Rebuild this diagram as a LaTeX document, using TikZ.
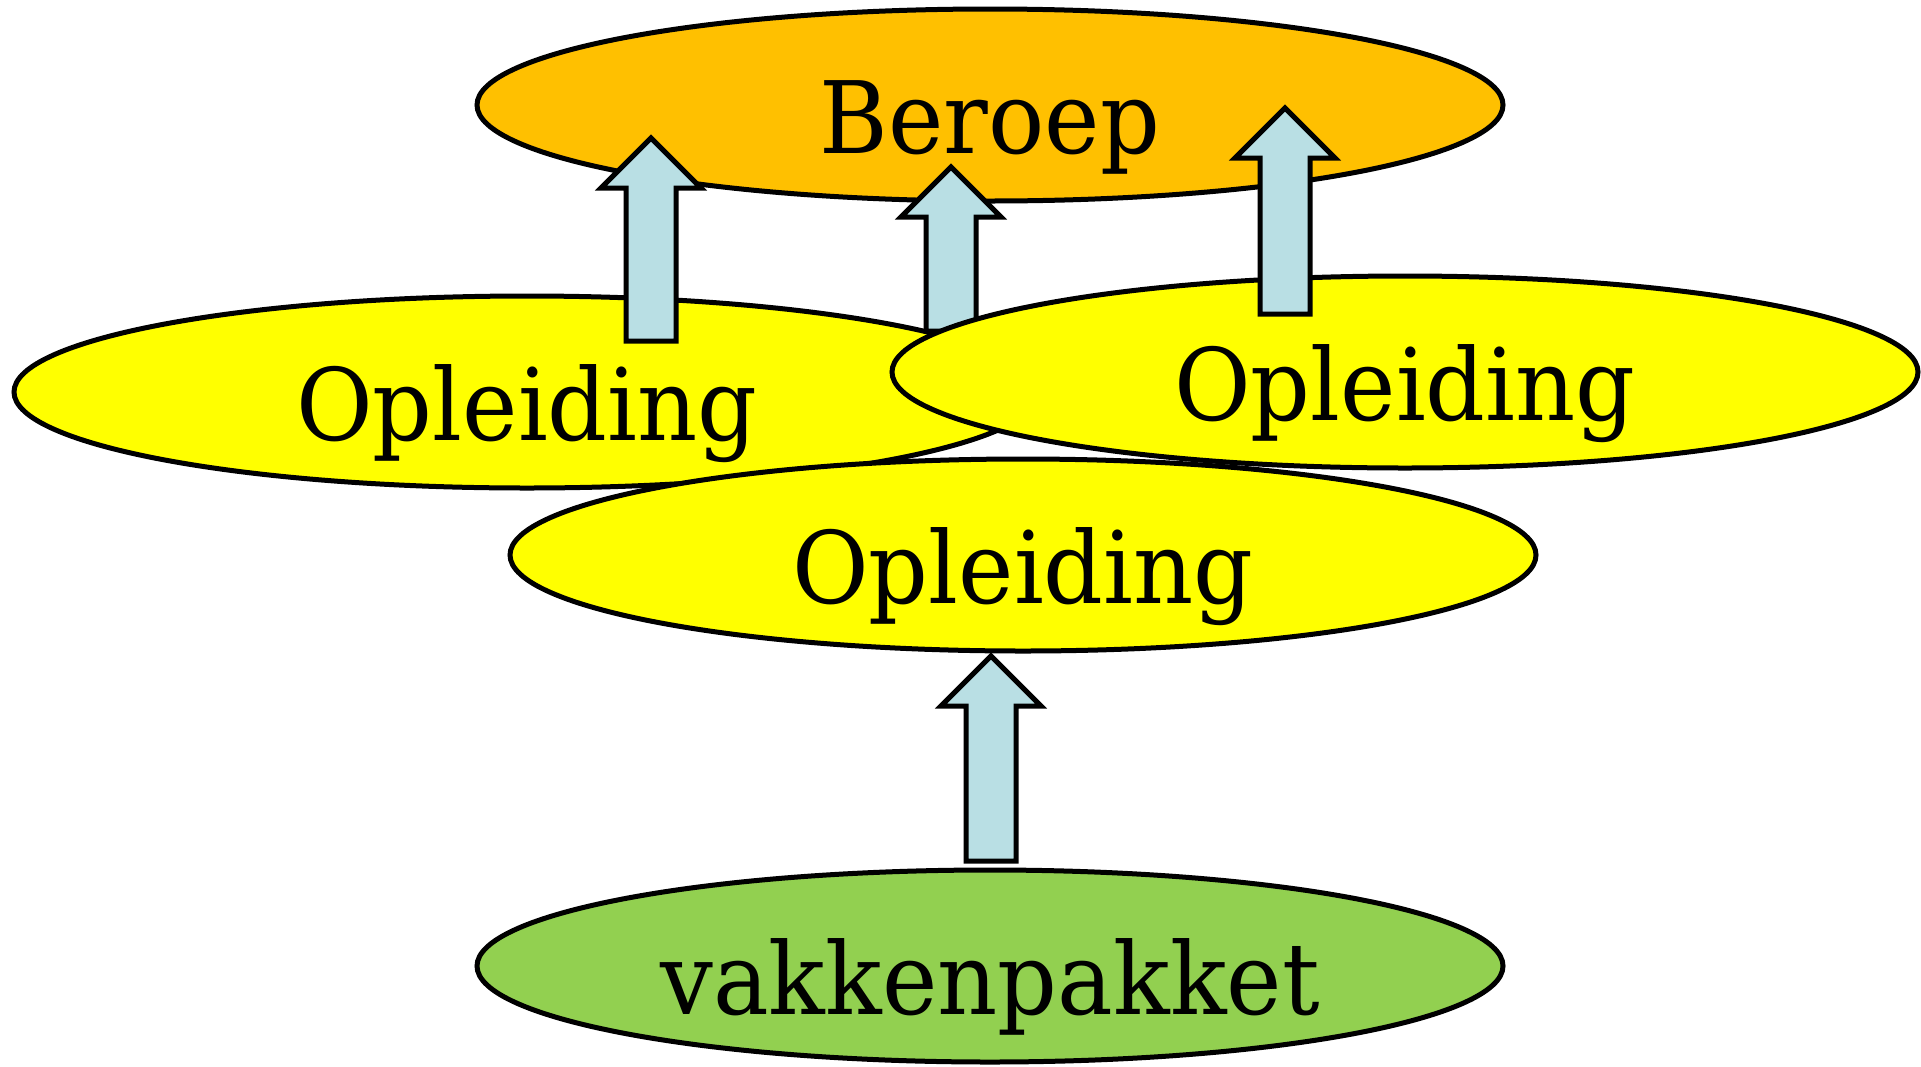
\documentclass[tikz,border=0pt]{standalone}
\usepackage{fontspec}
\usetikzlibrary{shapes.geometric}
\newfontfamily\dfont[FakeStretch=0.935]{DejaVu Serif}
\definecolor{beroepc}{HTML}{FFC000}
\definecolor{opleidc}{HTML}{FFFF00}
\definecolor{vakc}{HTML}{92D050}
\definecolor{arrowc}{HTML}{B9DFE4}
\tikzset{
  oval/.style={ellipse, draw=black, line width=2.5pt, inner sep=0pt,
    minimum width=513pt, minimum height=96pt,
    text height=48pt, text depth=0pt,
    font=\dfont\fontsize{50}{60}\selectfont},
  blockarrow/.style={draw=black, fill=arrowc, line width=2.5pt, miter limit=10},
}
% #1 centre x, #2 bottom y, #3 tip y  (pixel units)
\newcommand\uparrowblock[3]{%
  \filldraw[blockarrow] ({#1-25},#2) -- ({#1+25},#2) -- ({#1+25},{#3+50})
    -- ({#1+50},{#3+50}) -- (#1,#3) -- ({#1-50},{#3+50}) -- ({#1-25},{#3+50}) -- cycle;}
\begin{document}
\begin{tikzpicture}[x=0.5pt,y=-0.5pt]
\useasboundingbox (0,0) rectangle (1921,1066);
\node[oval, fill=beroepc] (beroep) at (990,105) {Beroep};
\node[oval, fill=opleidc] (oplL) at (527,392) {Opleiding};
\uparrowblock{651}{341}{138}
\uparrowblock{951}{331}{167}
\node[oval, fill=opleidc] (oplR) at (1405,372) {Opleiding};
\uparrowblock{1285}{314}{108}
\node[oval, fill=opleidc] (oplB) at (1023,555) {Opleiding};
\node[oval, fill=vakc] (vak) at (990,966) {vakkenpakket};
\uparrowblock{991}{861}{656}
\end{tikzpicture}
\end{document}
